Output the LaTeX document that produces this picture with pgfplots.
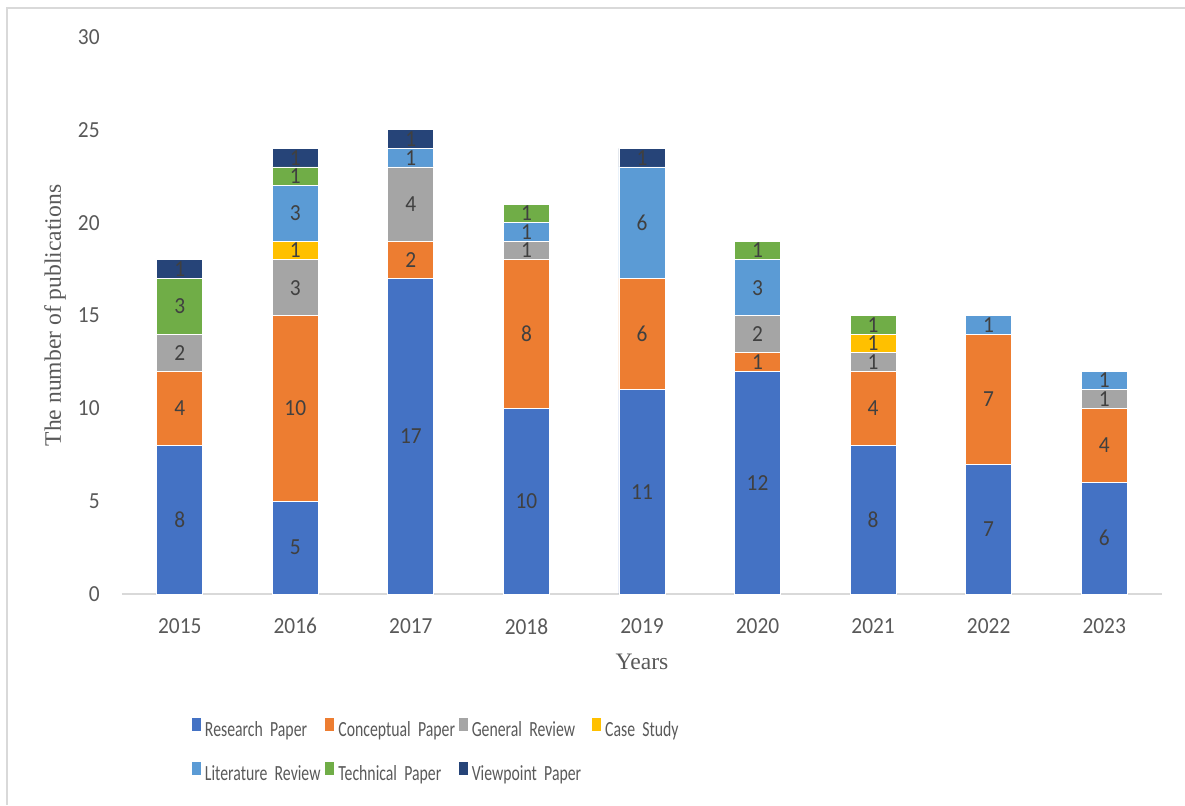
\documentclass[border=0pt]{standalone}
\usepackage{pgfplots}
\usepackage{pgfplotstable}
\pgfplotsset{compat=1.18}
\usepackage{fontspec}
\setmainfont{Carlito}
\newfontfamily\tickfont{Carlito}[FakeStretch=0.93]
\newfontfamily\legfont{Carlito}[FakeStretch=0.73]
\newfontfamily\seriffont{Liberation Serif}
\definecolor{cres}{HTML}{4472C4}
\definecolor{ccon}{HTML}{ED7D31}
\definecolor{cgen}{HTML}{A5A5A5}
\definecolor{ccas}{HTML}{FFC000}
\definecolor{clit}{HTML}{5B9BD5}
\definecolor{ctec}{HTML}{70AD47}
\definecolor{cvie}{HTML}{264478}
\definecolor{tgray}{HTML}{595959}
\definecolor{lgray}{HTML}{404040}
\definecolor{frame}{HTML}{D9D9D9}

\pgfplotstableread{
x research conceptual general case literature technical viewpoint
0 8 4 2 0 0 3 1
1 5 10 3 1 3 1 1
2 17 2 4 0 1 0 1
3 10 8 1 0 1 1 0
4 11 6 0 0 6 0 1
5 12 1 2 0 3 1 0
6 8 4 1 1 0 1 0
7 7 7 0 0 1 0 0
8 6 4 1 0 1 0 0
}\datatable

\pgfplotsset{
  lab/.style={
    point meta=explicit,
    nodes near coords={\pgfmathfloatifflags{\pgfplotspointmeta}{0}{}{\pgfmathprintnumber{\pgfplotspointmeta}}},
    every node near coord/.style={anchor=center,
      font=\tickfont\fontsize{11.5}{12}\selectfont, text=lgray, inner sep=0pt},
  },
  sq/.style={legend image code/.code={\fill[##1,draw=none] (0pt,0.25pt) rectangle (4.5pt,6.75pt);}},
}

\begin{document}
\begin{tikzpicture}
\useasboundingbox (0,0) rectangle (592.5pt,402.5pt);
\draw[frame, line width=1pt] (3.25pt,0) -- (3.25pt,398.5pt) -- (592.5pt,398.5pt);
\begin{axis}[
  at={(61pt,105.5pt)}, anchor=south west,
  scale only axis, width=520pt, height=278.5pt,
  ybar stacked, bar width=23pt,
  xmin=-0.5, xmax=8.5, ymin=0, ymax=30,
  enlargelimits=false,
  xtick={0,1,2,3,4,5,6,7,8},
  xticklabels={2015,2016,2017,2018,2019,2020,2021,2022,2023},
  ytick={0,5,10,15,20,25,30},
  major tick length=0pt,
  /pgf/number format/assume math mode=true,
  tick label style={font=\tickfont\fontsize{11.5}{12}\selectfont, text=tgray, inner sep=0pt},
  yticklabel style={anchor=east, xshift=-11pt},
  xticklabel style={anchor=north, yshift=-12pt},
  separate axis lines,
  axis x line*=bottom, axis y line*=left,
  x axis line style={draw=frame, line width=1pt, -},
  y axis line style={draw=none},
  xlabel={Years},
  ylabel={The number of publications},
  label style={font=\seriffont\fontsize{11.8}{12}\selectfont, text=tgray},
  xlabel style={at={(axis description cs:0.5,-0.1221)}, anchor=center},
  ylabel style={at={(axis description cs:-0.0644,0.5)}, anchor=center},
  clip=false,
  legend columns=4,
  legend style={at={(0.0673,-0.2226)}, anchor=north west, draw=none, fill=none,
    inner sep=0pt, outer sep=0pt,
    font=\legfont\fontsize{10.8}{12}\selectfont, text=tgray,
    nodes={text width=60.2pt, align=left, inner xsep=0pt, inner ysep=2pt, text height=7.5pt, text depth=2pt},
    /tikz/every even column/.append style={column sep=0pt},
    /tikz/every odd column/.append style={column sep=2pt},
    row sep=8.5pt},
  legend cell align=left,
]
\addplot[fill=cres, draw=white, line width=0.4pt, lab, sq] table[x=x, y=research, meta=research] \datatable;
\addplot[fill=ccon, draw=white, line width=0.4pt, lab, sq] table[x=x, y=conceptual, meta=conceptual] \datatable;
\addplot[fill=cgen, draw=white, line width=0.4pt, lab, sq] table[x=x, y=general, meta=general] \datatable;
\addplot[fill=ccas, draw=white, line width=0.4pt, lab, sq] table[x=x, y=case, meta=case] \datatable;
\addplot[fill=clit, draw=white, line width=0.4pt, lab, sq] table[x=x, y=literature, meta=literature] \datatable;
\addplot[fill=ctec, draw=white, line width=0.4pt, lab, sq] table[x=x, y=technical, meta=technical] \datatable;
\addplot[fill=cvie, draw=white, line width=0.4pt, lab, sq] table[x=x, y=viewpoint, meta=viewpoint] \datatable;
\legend{Research Paper, Conceptual Paper, General Review, Case Study, Literature Review, Technical Paper, Viewpoint Paper}
\end{axis}
\end{tikzpicture}
\end{document}
